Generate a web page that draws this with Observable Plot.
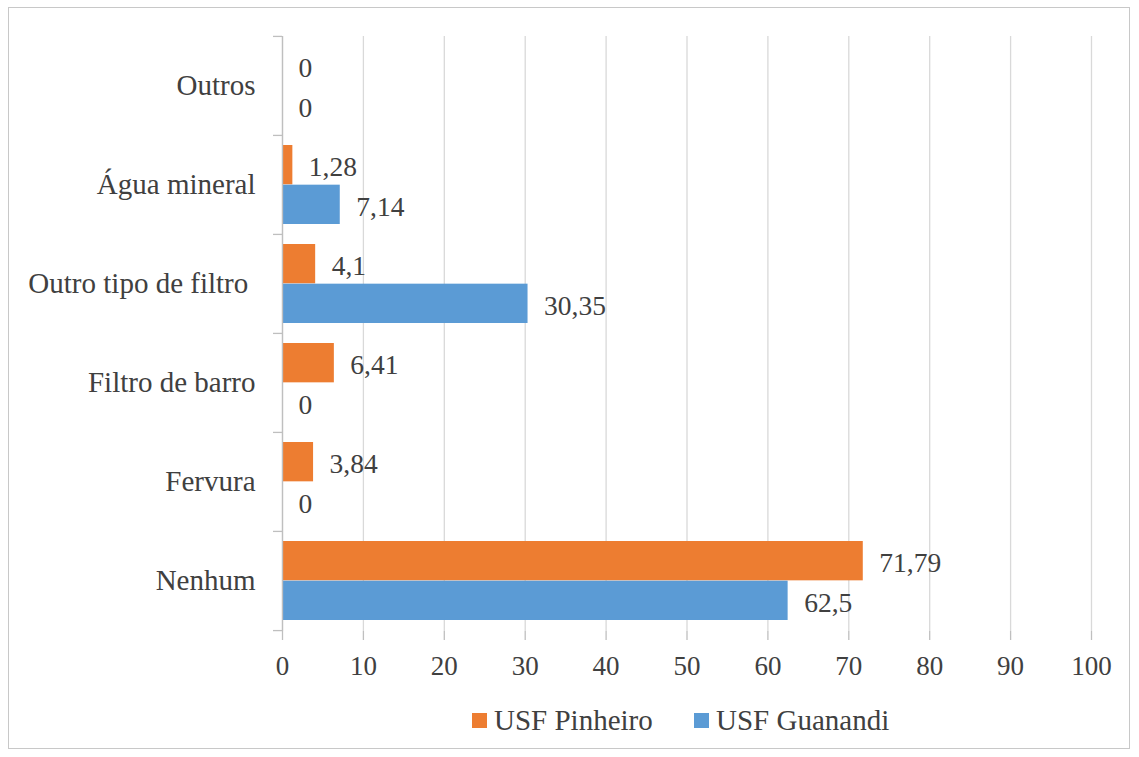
<!DOCTYPE html>
<html>
<head>
<meta charset="utf-8">
<script src="https://cdn.jsdelivr.net/npm/d3@7"></script>
<script src="https://cdn.jsdelivr.net/npm/@observablehq/plot@0.6"></script>
<style>
  html, body { margin: 0; padding: 0; background: #fff; }
  body { position: relative; width: 1139px; height: 757px; overflow: hidden; font-family: 'Liberation Serif', serif; }
  #frame { position: absolute; left: 8px; top: 7px; width: 1122px; height: 742px; border: 1px solid #c8c8c8; box-sizing: border-box; }
  #chart { position: absolute; left: 0; top: 0; }
  #legend { position: absolute; top: 702px; left: 0; width: 1139px; height: 36px; font-family: 'Liberation Serif', serif; font-size: 29px; color: #404040; }
  .item { position: absolute; top: 0; display: flex; align-items: center; height: 36px; white-space: nowrap; }
  .sw { width: 15px; height: 15px; margin-right: 7px; display: inline-block; }
</style>
</head>
<body>
<div id="frame"></div>
<div id="chart"></div>
<div id="legend"></div>
<script>
// ---- data ----
const categories = ["Outros", "Água mineral", "Outro tipo de filtro\u00a0", "Filtro de barro", "Fervura", "Nenhum"];
const seriesNames = ["USF Pinheiro", "USF Guanandi"];
const seriesColors = ["#ED7D31", "#5B9BD5"];
const pinheiro = [0, 1.28, 4.1, 6.41, 3.84, 71.79];
const guanandi = [0, 7.14, 30.35, 0, 0, 62.5];
const xTicks = [0, 10, 20, 30, 40, 50, 60, 70, 80, 90, 100];

const rows = categories.map((c, i) => ({cat: c, pin: pinheiro[i], gua: guanandi[i]}));
const fmt = v => String(v).replace(".", ",");

const W = 1139, H = 700;
const mTop = 36, mBottom = H - 631, mLeft = 282, mRight = W - 1091;
const step = (H - mTop - mBottom) / categories.length;
const bw = step * 0.8;
const half = bw / 2;
const textColor = "#404040";
const font = "'Liberation Serif', serif";

const chart = Plot.plot({
  width: W,
  height: H,
  marginTop: mTop,
  marginBottom: mBottom,
  marginLeft: mLeft,
  marginRight: mRight,
  style: {fontFamily: font, background: "transparent", color: textColor},
  x: {domain: [0, 100], axis: null},
  y: {domain: categories, paddingInner: 0.2, paddingOuter: 0.1, axis: null},
  marks: [
    Plot.gridX(xTicks, {stroke: "#d9d9d9", strokeOpacity: 1, strokeWidth: 1.3}),
    Plot.barX(rows, {x: "pin", y: "cat", fill: seriesColors[0], insetBottom: half}),
    Plot.barX(rows, {x: "gua", y: "cat", fill: seriesColors[1], insetTop: half}),
    Plot.ruleX([0], {stroke: "#bfbfbf", strokeWidth: 1.3}),
    Plot.axisX({ticks: xTicks, label: null, tickSize: 9, tickPadding: 15, stroke: "#bfbfbf", strokeWidth: 1.3, strokeOpacity: 1, line: true, fontSize: 27, fontFamily: font, fill: textColor, tickFormat: d => String(d)}),
    Plot.axisY({label: null, tickSize: 0, tickPadding: 27, fontSize: 29, fontFamily: font, fill: textColor, textAnchor: "end"}),
    Plot.axisY({label: null, tickSize: 9, tickFormat: () => "", dy: -step / 2, stroke: "#bfbfbf", strokeWidth: 1.3, strokeOpacity: 1}),
    Plot.axisY({label: null, ticks: [categories[categories.length - 1]], tickSize: 9, tickFormat: () => "", dy: step / 2, stroke: "#bfbfbf", strokeWidth: 1.3, strokeOpacity: 1}),
    Plot.text(rows, {x: "pin", y: "cat", text: d => fmt(d.pin), dy: -half / 2 + 2.5, dx: 16, textAnchor: "start", fontSize: 27.5, fontFamily: font, fill: textColor}),
    Plot.text(rows, {x: "gua", y: "cat", text: d => fmt(d.gua), dy: half / 2 + 2.5, dx: 16, textAnchor: "start", fontSize: 27.5, fontFamily: font, fill: textColor})
  ]
});
document.getElementById("chart").appendChild(chart);

// ---- legend ----
const legend = document.getElementById("legend");
const legendX = [472, 694];
seriesNames.forEach((name, i) => {
  const item = document.createElement("div");
  item.className = "item";
  item.style.left = legendX[i] + "px";
  const sw = document.createElement("span");
  sw.className = "sw";
  sw.style.background = seriesColors[i];
  item.appendChild(sw);
  item.appendChild(document.createTextNode(name));
  legend.appendChild(item);
});
</script>
</body>
</html>
